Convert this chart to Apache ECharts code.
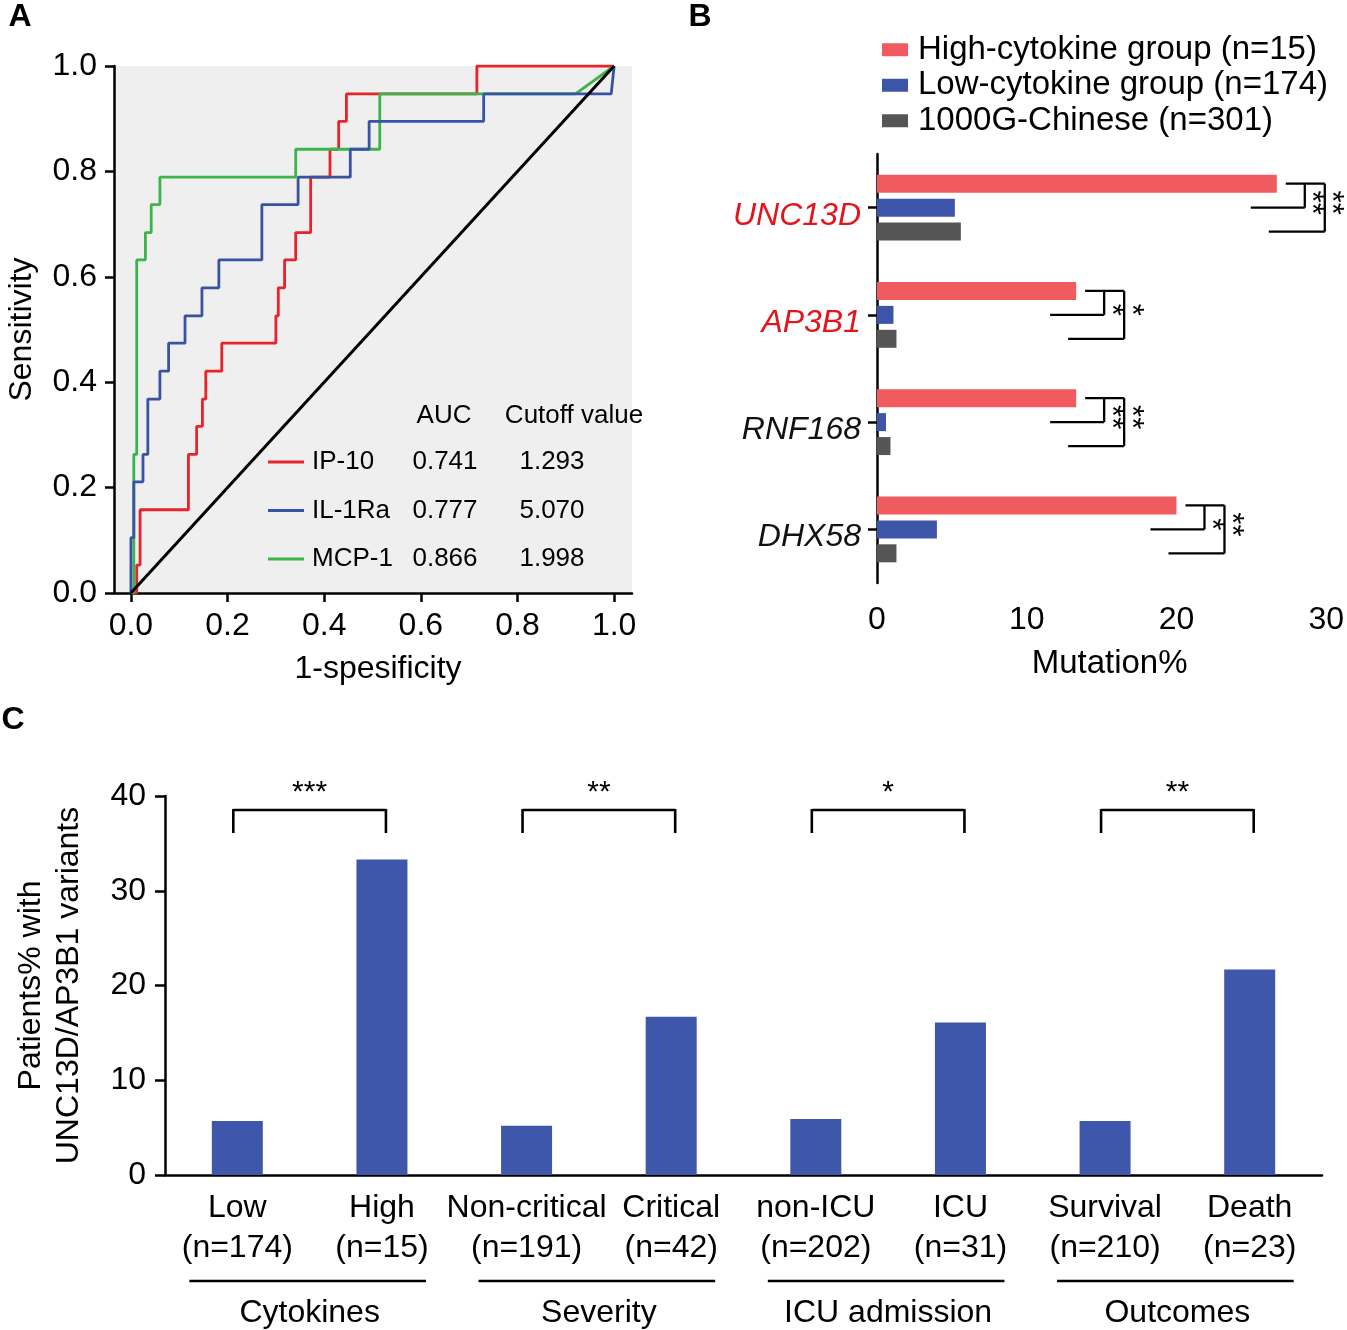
<!DOCTYPE html>
<html>
<head>
<meta charset="utf-8">
<script src="https://cdn.jsdelivr.net/npm/echarts@6/dist/echarts.min.js"></script>
<style>
html,body{margin:0;padding:0;background:#fff}
#main{width:1347px;height:1330px}
</style>
</head>
<body>
<div id="main"></div>
<script>
var FONT='"Liberation Sans", Arial, Helvetica, sans-serif';

// A: ROC curves (1-specificity / sensitivity vertices)
var ip10Fpr=[0,0.012,0.012,0.019,0.019,0.119,0.119,0.136,0.136,0.148,0.148,0.155,0.155,0.188,0.188,0.300,0.300,0.305,0.305,0.318,0.318,0.341,0.341,0.372,0.372,0.412,0.412,0.430,0.430,0.446,0.446,0.716,0.716,1];
var ip10Tpr=[0,0,0.053,0.053,0.158,0.158,0.263,0.263,0.316,0.316,0.368,0.368,0.421,0.421,0.474,0.474,0.526,0.526,0.579,0.579,0.632,0.632,0.684,0.684,0.789,0.789,0.842,0.842,0.895,0.895,0.947,0.947,1,1];
var il1raFpr=[0,0,0.006,0.006,0.025,0.025,0.035,0.035,0.060,0.060,0.078,0.078,0.112,0.112,0.147,0.147,0.182,0.182,0.271,0.271,0.346,0.346,0.454,0.454,0.493,0.493,0.730,0.730,0.994,1];
var il1raTpr=[0,0.105,0.105,0.211,0.211,0.263,0.263,0.368,0.368,0.421,0.421,0.474,0.474,0.526,0.526,0.579,0.579,0.632,0.632,0.737,0.737,0.789,0.789,0.842,0.842,0.895,0.895,0.947,0.947,1];
var mcp1Fpr=[0,0.006,0.006,0.012,0.012,0.030,0.030,0.042,0.042,0.060,0.060,0.341,0.341,0.515,0.515,0.920,1];
var mcp1Tpr=[0,0,0.263,0.263,0.632,0.632,0.684,0.684,0.737,0.737,0.789,0.789,0.842,0.842,0.947,0.947,1];
var rocNames=['IP-10','IL-1Ra','MCP-1'];
var rocAuc=['0.741','0.777','0.866'];
var rocCutoff=['1.293','5.070','1.998'];
var rocTicks=[0,0.2,0.4,0.6,0.8,1.0];

// B: mutation %
var genes=['UNC13D','AP3B1','RNF168','DHX58'];
var geneRed=[true,true,false,false];
var groupNames=['High-cytokine group (n=15)','Low-cytokine group (n=174)','1000G-Chinese (n=301)'];
var highMut=[26.7,13.3,13.3,20.0];
var lowMut=[5.2,1.1,0.6,4.0];
var cnMut=[5.6,1.3,0.9,1.3];
var starsHighLow=['**','*','**','*'];
var starsHighCn=['**','*','**','**'];

// C: patients % with variants
var cCats=['Low\n(n=174)','High\n(n=15)','Non-critical\n(n=191)','Critical\n(n=42)','non-ICU\n(n=202)','ICU\n(n=31)','Survival\n(n=210)','Death\n(n=23)'];
var cVals=[5.7,33.3,5.2,16.7,5.9,16.1,5.7,21.7];
var cGroups=['Cytokines','Severity','ICU admission','Outcomes'];
var cStars=['***','**','*','**'];

var RED='#e8232a', BLUE='#3953a4', GREEN='#3ab54a';
var BAR_RED='#ef5b5f', BAR_BLUE='#3c55a8', BAR_GREY='#555555', C_BLUE='#3f57ab';
var FS=32;

function zip(a,b){var r=[];for(var i=0;i<a.length;i++)r.push([a[i],b[i]]);return r;}
function axisStyle(){return {lineStyle:{color:'#000',width:2.5}};}
function tickStyle(len){return {length:len,lineStyle:{color:'#000',width:2.5}};}

var chart=echarts.init(document.getElementById('main'));
var option={
    animation:false,
    textStyle:{fontFamily:FONT},
    legend:{
        data:groupNames,orient:'vertical',left:877,top:28,itemWidth:26,itemHeight:13,itemGap:2,
        icon:'rect',selectedMode:false,
        textStyle:{fontSize:33,color:'#000',lineHeight:33.5,padding:[0,0,0,5]}
    },
    grid:[
        {left:114,top:66,width:518,height:527,show:true,backgroundColor:'#efefef',borderWidth:0},
        {left:877,top:154,width:451,height:429},
        {left:165,top:796,width:1157,height:379}
    ],
    xAxis:[
        {gridIndex:0,type:'value',min:-0.035,max:1.037,
            name:'1-spesificity',nameLocation:'middle',nameGap:60,
            nameTextStyle:{fontSize:FS,color:'#000',padding:[0,0,0,10]},
            axisLine:{onZero:false,lineStyle:{color:'#000',width:2.5}},
            axisTick:Object.assign({customValues:rocTicks},tickStyle(9)),
            axisLabel:{customValues:rocTicks,formatter:function(v){return v.toFixed(1);},fontSize:FS,color:'#000',margin:17},
            splitLine:{show:false}},
        {gridIndex:1,type:'value',min:0,max:30,interval:10,
            name:'Mutation%',nameLocation:'middle',nameGap:64,
            nameTextStyle:{fontSize:33,color:'#000',padding:[0,0,0,16]},
            axisLine:axisStyle(),axisTick:tickStyle(9),
            axisLabel:{fontSize:FS,color:'#000',margin:21},splitLine:{show:false}},
        {gridIndex:2,type:'category',data:cCats,
            axisLine:axisStyle(),axisTick:Object.assign({alignWithLabel:true},tickStyle(9)),
            axisLabel:{interval:0,fontSize:FS,lineHeight:40,color:'#000',margin:13}}
    ],
    yAxis:[
        {gridIndex:0,type:'value',min:0,max:1,interval:0.2,
            name:'Sensitivity',nameLocation:'middle',nameGap:76,nameRotate:90,nameTextStyle:{fontSize:FS,color:'#000'},
            axisLine:{show:true,onZero:false,lineStyle:{color:'#000',width:2.5}},axisTick:Object.assign({show:true},tickStyle(9)),
            axisLabel:{formatter:function(v){return v.toFixed(1);},fontSize:FS,color:'#000',margin:17},
            splitLine:{show:false}},
        {gridIndex:1,type:'category',data:genes,inverse:true,
            axisLine:{show:true,lineStyle:{color:'#000',width:2.5}},
            axisTick:Object.assign({show:true,alignWithLabel:true},tickStyle(9)),
            axisLabel:{margin:16,padding:[16,0,0,0],formatter:function(v,i){return (geneRed[i]?'{r|':'{k|')+v+'}';},
                rich:{r:{color:'#e3141b',fontStyle:'italic',fontSize:FS,fontFamily:FONT},
                      k:{color:'#111',fontStyle:'italic',fontSize:FS,fontFamily:FONT}}}},
        {gridIndex:2,type:'value',min:0,max:40,interval:10,
            name:'Patients% with\nUNC13D/AP3B1 variants',nameLocation:'middle',nameGap:77,nameRotate:90,
            nameTextStyle:{fontSize:FS,color:'#000',lineHeight:38},
            axisLine:{show:true,lineStyle:{color:'#000',width:2.5}},axisTick:Object.assign({show:true},tickStyle(10)),
            axisLabel:{fontSize:FS,color:'#000',margin:19},splitLine:{show:false}}
    ],
    series:[
        {name:'IP-10',type:'line',xAxisIndex:0,yAxisIndex:0,data:zip(ip10Fpr,ip10Tpr),symbol:'none',lineStyle:{color:RED,width:2.8},itemStyle:{color:RED},z:2},
        {name:'MCP-1',type:'line',xAxisIndex:0,yAxisIndex:0,data:zip(mcp1Fpr,mcp1Tpr),symbol:'none',lineStyle:{color:GREEN,width:2.8},itemStyle:{color:GREEN},z:3},
        {name:'IL-1Ra',type:'line',xAxisIndex:0,yAxisIndex:0,data:zip(il1raFpr,il1raTpr),symbol:'none',lineStyle:{color:BLUE,width:2.8},itemStyle:{color:BLUE},z:4},
        {name:'ref',type:'line',xAxisIndex:0,yAxisIndex:0,data:[[0,0],[1,1]],symbol:'none',lineStyle:{color:'#000',width:3},z:5},
        {name:groupNames[0],type:'bar',xAxisIndex:1,yAxisIndex:1,data:highMut,barWidth:18,barGap:'33%',itemStyle:{color:BAR_RED}},
        {name:groupNames[1],type:'bar',xAxisIndex:1,yAxisIndex:1,data:lowMut,barWidth:18,barGap:'33%',itemStyle:{color:BAR_BLUE}},
        {name:groupNames[2],type:'bar',xAxisIndex:1,yAxisIndex:1,data:cnMut,barWidth:18,barGap:'33%',itemStyle:{color:BAR_GREY}},
        {name:'C',type:'bar',xAxisIndex:2,yAxisIndex:2,data:cVals,barWidth:51,itemStyle:{color:C_BLUE}}
    ]
};
chart.setOption(option);

// annotations
var g=[];
function txt(x,y,s,size,opt){
    opt=opt||{};
    g.push({type:'text',x:x,y:y,rotation:opt.rot||0,z:10,
        style:{text:s,fill:opt.color||'#000',font:(opt.weight||'normal')+' '+size+'px '+FONT,
            textAlign:opt.align||'center',textVerticalAlign:'middle'}});
}
function ln(x1,y1,x2,y2,w){
    g.push({type:'line',z:10,shape:{x1:x1,y1:y1,x2:x2,y2:y2},style:{stroke:'#000',lineWidth:w||2.3}});
}
// panel letters
txt(20,17,'A',32,{weight:'bold'});
txt(700,17,'B',32,{weight:'bold'});
txt(13,720,'C',32,{weight:'bold'});

// A legend table
var rocColors=[RED,BLUE,GREEN];
txt(444,416,'AUC',26);
txt(574,416,'Cutoff value',26);
for(var i=0;i<rocNames.length;i++){
    var ry=462+i*48.5;
    g.push({type:'line',z:10,shape:{x1:268,y1:ry,x2:304,y2:ry},style:{stroke:rocColors[i],lineWidth:2.8}});
    txt(312,ry,rocNames[i],26,{align:'left'});
    txt(445,ry,rocAuc[i],26);
    txt(552,ry,rocCutoff[i],26);
}

// B significance brackets
for(var k=0;k<genes.length;k++){
    var pr=chart.convertToPixel({xAxisIndex:1,yAxisIndex:1},[highMut[k],k]);
    var rx=pr[0], yc=pr[1], yR=yc-24, yB=yc, yG=yc+24;
    var xi=rx+28, xo=rx+48;
    ln(rx+9,yR,xo,yR);
    ln(xi,yR,xi,yB);
    ln(rx-26,yB,xi,yB);
    ln(xo,yR,xo,yG);
    ln(rx-8,yG,xo,yG);
    txt(xi+6,yc-5,starsHighLow[k],31,{rot:-Math.PI/2});
    txt(xo+6,yc-5,starsHighCn[k],31,{rot:-Math.PI/2});
}

// C brackets and group labels
var y40=chart.convertToPixel({xAxisIndex:2,yAxisIndex:2},[0,40])[1];
var y0=chart.convertToPixel({xAxisIndex:2,yAxisIndex:2},[0,0])[1];
for(var p=0;p<cGroups.length;p++){
    var xa=chart.convertToPixel({xAxisIndex:2,yAxisIndex:2},[2*p,0])[0]-4;
    var xb=chart.convertToPixel({xAxisIndex:2,yAxisIndex:2},[2*p+1,0])[0]+4;
    var brTop=y40+14;
    ln(xa,brTop,xb,brTop,2.6);
    ln(xa,brTop-1,xa,brTop+23,2.6);
    ln(xb,brTop-1,xb,brTop+23,2.6);
    txt((xa+xb)/2,y40-3,cStars[p],30);
    ln(xa-44,y0+106,xb+40,y0+106,2.6);
    txt((xa+xb)/2,y0+138,cGroups[p],FS);
}
chart.setOption({graphic:g});
</script>
</body>
</html>
